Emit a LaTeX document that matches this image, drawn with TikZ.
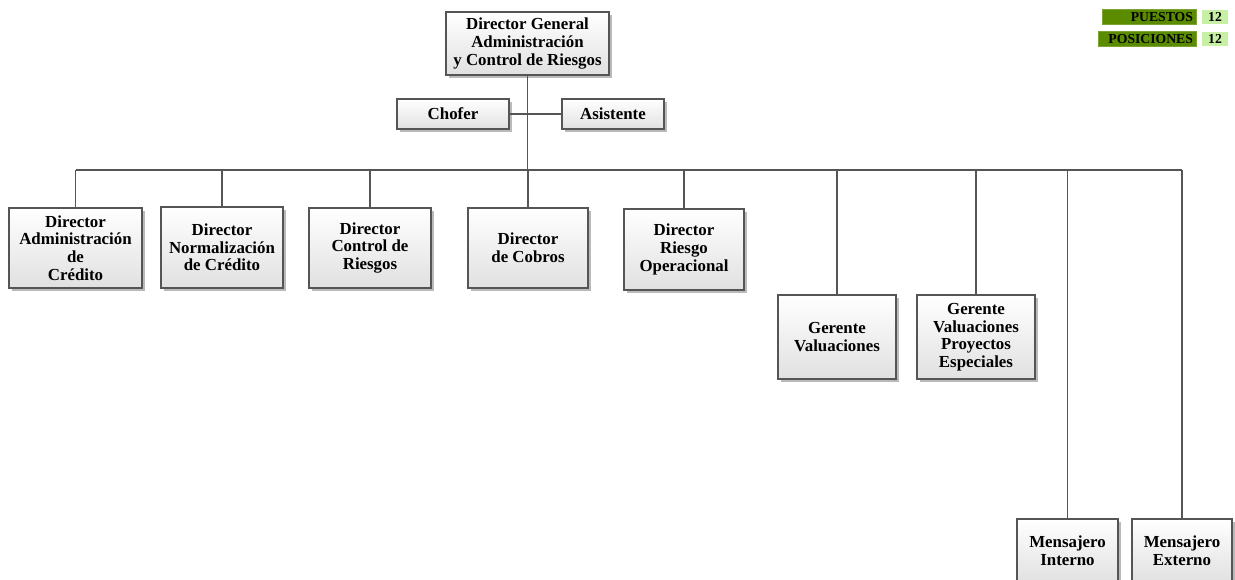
\documentclass[tikz,border=0pt]{standalone}
\usepackage{fontspec}
\setmainfont{Liberation Serif}
\usetikzlibrary{shadows}

\definecolor{linea}{HTML}{555555}
\definecolor{verdeosc}{HTML}{5B8C00}
\definecolor{verdecla}{HTML}{C8F0A4}

\tikzset{
  puesto/.style={draw=linea, line width=0.7pt, inner sep=0pt, align=center,
    top color=white, bottom color=black!12,
    drop shadow={shadow xshift=1.6pt, shadow yshift=-1.6pt, fill=black!45, opacity=0.6},
    font=\fontsize{9.6}{10}\selectfont\bfseries},
  linea/.style={draw=linea, line width=0.8pt},
  barra/.style={fill=verdeosc, draw=verdeosc!80!white, inner sep=1.5pt, minimum height=0.28cm,
    align=right, font=\fontsize{7.8}{8}\selectfont\bfseries},
  cifra/.style={fill=verdecla, minimum height=0.28cm, minimum width=0.52cm, inner sep=0pt,
    font=\fontsize{7.8}{8}\selectfont\bfseries}
}

\begin{document}
\begin{tikzpicture}[x=0.02cm, y=-0.02cm]
  \useasboundingbox (0,0) rectangle (1235,580);

  \node[puesto, minimum width=3.26cm, minimum height=1.26cm] (dg) at (527.5,43.5)
    {Director General\\Administración\\y Control de Riesgos};
  \node[puesto, minimum width=2.24cm, minimum height=0.6cm] (chofer) at (453,114) {Chofer};
  \node[puesto, minimum width=2.04cm, minimum height=0.6cm] (asist) at (613,114) {Asistente};

  \node[puesto, minimum width=2.66cm, minimum height=1.6cm] (dac) at (75.5,248)
    {Director\\Administración\\de\\Crédito};
  \node[puesto, minimum width=2.44cm, minimum height=1.62cm] (dnc) at (222,247.5)
    {Director\\Normalización\\de Crédito};
  \node[puesto, minimum width=2.44cm, minimum height=1.6cm] (dcr) at (370,248)
    {Director\\Control de\\Riesgos};
  \node[puesto, minimum width=2.4cm, minimum height=1.6cm] (dco) at (528,248)
    {Director\\de Cobros};
  \node[puesto, minimum width=2.4cm, minimum height=1.62cm] (dro) at (684,249.5)
    {Director\\Riesgo\\Operacional};
  \node[puesto, minimum width=2.36cm, minimum height=1.68cm] (gva) at (837,337)
    {Gerente\\Valuaciones};
  \node[puesto, minimum width=2.36cm, minimum height=1.68cm] (gvp) at (976,337)
    {Gerente\\Valuaciones\\Proyectos\\Especiales};
  \node[puesto, minimum width=2.02cm, minimum height=1.28cm] (mint) at (1067.5,551)
    {Mensajero\\Interno};
  \node[puesto, minimum width=2.0cm, minimum height=1.28cm] (mext) at (1182,551)
    {Mensajero\\Externo};

  \coordinate (bus) at (527,170);
  \draw[linea] (dg.south) -- (dg.south |- bus);
  \draw[linea] (chofer.east) -- (asist.west);
  \draw[linea] (dac.north |- bus) -- (mext.north |- bus);
  \foreach \n in {dac,dnc,dcr,dco,dro,gva,gvp,mint,mext}
    \draw[linea] (\n.north) -- (\n.north |- bus);

  \node[barra, minimum width=1.88cm, text width=1.76cm] (puestos) at (1149,17) {PUESTOS};
  \node[cifra] (npuestos) at (1215,17) {12};
  \node[barra, minimum width=1.96cm, text width=1.84cm] (posiciones) at (1147,39) {POSICIONES};
  \node[cifra] (nposiciones) at (1215,39) {12};
\end{tikzpicture}
\end{document}
